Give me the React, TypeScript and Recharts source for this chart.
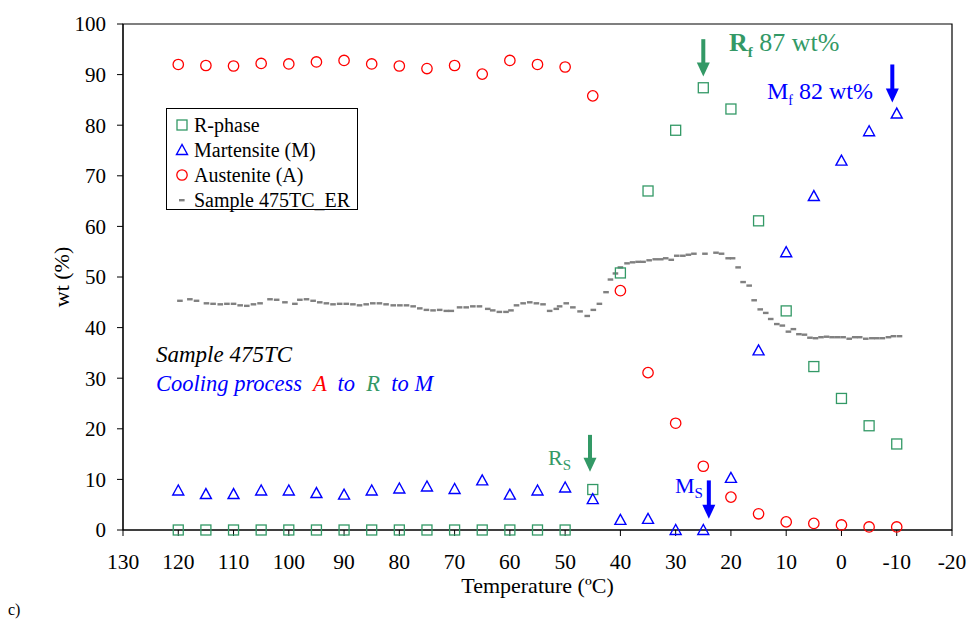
import React from "react";
import {
  ScatterChart,
  Scatter,
  XAxis,
  YAxis,
  ReferenceArea,
  ReferenceLine,
  Label,
} from "recharts";

const FONT = '"Liberation Serif", "Times New Roman", serif';
const GREEN = "#339966";
const BLUE = "#0000ff";
const RED = "#ff0000";
const GREY = "#808080";

// temperatures of the XRD phase fractions (ºC)
const phaseTemps = [
  120, 115, 110, 105, 100, 95, 90, 85, 80, 75, 70, 65, 60, 55, 50, 45, 40, 35,
  30, 25, 20, 15, 10, 5, 0, -5, -10,
];
const rPhase = [
  0, 0, 0, 0, 0, 0, 0, 0, 0, 0, 0, 0, 0, 0, 0, 8, 50.8, 67, 79, 87.4, 83.2,
  61.1, 43.3, 32.3, 26, 20.6, 17,
];
const martensite = [
  7.8, 7.1, 7.1, 7.8, 7.8, 7.3, 7.0, 7.8, 8.2, 8.6, 8.1, 9.8, 7.0, 7.8, 8.4,
  6.1, 2.0, 2.2, 0, 0, 10.3, 35.5, 54.9, 66.0, 73.0, 78.8, 82.3,
];
const austenite = [
  92.0, 91.8, 91.7, 92.2, 92.1, 92.5, 92.8, 92.1, 91.7, 91.2, 91.8, 90.1,
  92.8, 92.0, 91.5, 85.8, 47.3, 31.1, 21.1, 12.6, 6.5, 3.2, 1.6, 1.3, 1.0,
  0.6, 0.6,
];

// Sample 475TC_ER curve
const erTemps = [
  119.7, 117.9, 116.7, 114.9, 113.7, 112.4, 111.2, 110.0, 108.8, 107.6, 106.4,
  105.2, 103.4, 102.2, 100.7, 98.9, 98.0, 96.8, 95.6, 94.4, 93.2, 92.0, 90.8,
  89.6, 88.4, 87.2, 86.0, 84.8, 83.6, 82.4, 81.1, 79.9, 78.7, 77.5, 76.3, 75.1,
  73.9, 72.7, 71.5, 70.6, 69.1, 67.9, 66.7, 65.5, 64.0, 63.1, 61.9, 60.7, 59.8,
  58.8, 57.6, 56.4, 55.2, 54.0, 52.8, 51.6, 51.0, 49.8, 48.6, 47.3, 46.0, 44.9,
  43.8, 42.6, 41.8, 40.9, 40.0, 38.8, 37.8, 36.8, 35.9, 34.8, 33.7, 32.7, 31.8,
  30.8, 29.8, 28.7, 27.7, 26.7, 24.7, 22.7, 21.7, 20.5, 19.7, 18.7, 17.8, 16.7,
  15.8, 14.7, 13.7, 12.8, 11.7, 10.7, 9.6, 8.7, 7.7, 6.7, 5.7, 4.7, 3.7, 2.7,
  1.7, 0.7, -0.3, -1.4, -2.4, -3.3, -4.4, -5.5, -6.4, -7.4, -8.5, -9.4, -10.5,
];
const erValues = [
  45.3, 45.6, 45.3, 44.8, 44.7, 44.6, 44.7, 44.7, 44.4, 44.3, 44.6, 44.8, 45.6,
  45.5, 45.0, 44.7, 45.5, 45.6, 45.3, 45.0, 44.8, 44.6, 44.7, 44.7, 44.6, 44.4,
  44.6, 44.8, 44.8, 44.6, 44.4, 44.4, 44.4, 44.2, 43.8, 43.5, 43.4, 43.5, 43.3,
  43.3, 44.0, 44.0, 44.2, 44.2, 43.7, 43.4, 43.1, 43.1, 43.4, 44.4, 44.8, 45.0,
  44.8, 44.6, 43.3, 43.7, 44.2, 44.8, 44.0, 43.2, 42.3, 43.5, 44.7, 47.0, 49.5,
  50.7, 51.9, 52.7, 52.9, 53.0, 53.0, 53.3, 53.5, 53.5, 53.7, 53.4, 54.2, 54.2,
  54.4, 54.6, 54.6, 54.8, 54.6, 53.7, 53.7, 51.9, 49.0, 48.3, 45.4, 43.6, 42.9,
  41.7, 40.7, 40.4, 39.2, 39.7, 38.7, 38.6, 38.0, 37.9, 38.1, 38.2, 38.1, 38.1,
  38.1, 37.8, 38.1, 38.1, 37.8, 37.9, 37.9, 37.9, 38.1, 38.3, 38.3,
];

const xTicks = [130, 120, 110, 100, 90, 80, 70, 60, 50, 40, 30, 20, 10, 0, -10, -20];
const yTicks = [0, 10, 20, 30, 40, 50, 60, 70, 80, 90, 100];
const xMinor = Array.from({ length: 76 }, (_, i) => -20 + i * 2);
const yMinor = Array.from({ length: 51 }, (_, i) => i * 2);

const rData = phaseTemps.map((t, i) => ({ t, v: rPhase[i] }));
const mData = phaseTemps.map((t, i) => ({ t, v: martensite[i] }));
const aData = phaseTemps.map((t, i) => ({ t, v: austenite[i] }));
const erData = erTemps.map((t, i) => ({ t, v: erValues[i] }));

const SquareMark = (p: any) => (
  <rect x={p.cx - 5} y={p.cy - 5} width={10} height={10} fill="none" stroke={GREEN} strokeWidth={1.3} />
);
const TriMark = (p: any) => (
  <polygon
    points={`${p.cx},${p.cy - 5.5} ${p.cx - 5.5},${p.cy + 4.5} ${p.cx + 5.5},${p.cy + 4.5}`}
    fill="none"
    stroke={BLUE}
    strokeWidth={1.4}
  />
);
const CircleMark = (p: any) => (
  <circle cx={p.cx} cy={p.cy} r={5.2} fill="none" stroke={RED} strokeWidth={1.3} />
);
const DashMark = (p: any) => (
  <rect x={p.cx - 2.8} y={p.cy - 1.2} width={5.6} height={2.4} fill={GREY} />
);

const arrow = (color: string) => (p: any) => {
  const { x1, y1, x2, y2 } = p;
  const head = 14;
  return (
    <g>
      <rect x={x1 - 2} y={y1} width={4} height={y2 - y1 - head + 1} fill={color} />
      <polygon points={`${x2 - 6.5},${y2 - head} ${x2 + 6.5},${y2 - head} ${x2},${y2}`} fill={color} />
    </g>
  );
};

const legendRows = [
  { label: "R-phase", icon: <rect x={2} y={2} width={10} height={10} fill="none" stroke={GREEN} strokeWidth={1.3} /> },
  { label: "Martensite (M)", icon: <polygon points="7,1.5 1.5,11.5 12.5,11.5" fill="none" stroke={BLUE} strokeWidth={1.4} /> },
  { label: "Austenite (A)", icon: <circle cx={7} cy={7} r={5.2} fill="none" stroke={RED} strokeWidth={1.3} /> },
  { label: "Sample 475TC_ER", icon: <rect x={4} y={6} width={5.6} height={2.4} fill={GREY} /> },
];

export default function App() {
  return (
    <div style={{ width: 969, height: 623, padding: "8px 0 0 8px", boxSizing: "border-box", overflow: "hidden", background: "#fff" }}>
      <style>{"body{margin:0}"}</style>
      <div style={{ position: "relative", width: 961, height: 615, fontFamily: FONT }}>
        <ScatterChart width={961} height={600} margin={{ top: 16, right: 17, left: 0, bottom: 0 }}>
          <XAxis
            xAxisId="main"
            type="number"
            dataKey="t"
            domain={[-20, 130]}
            reversed
            ticks={xTicks}
            interval={0}
            height={78}
            tickSize={6}
            tickMargin={18}
            stroke="#000"
            tick={{ fill: "#000", fontSize: 21.5, fontFamily: FONT }}
          >
            <Label
              value="Temperature (ºC)"
              position="insideBottom"
              offset={15}
              style={{ fontSize: 22, fontFamily: FONT, fill: "#000" }}
            />
          </XAxis>
          <XAxis
            xAxisId="minor"
            type="number"
            dataKey="t"
            domain={[-20, 130]}
            allowDataOverflow
            reversed
            ticks={xMinor}
            interval={0}
            mirror
            axisLine={false}
            tick={false}
            tickSize={5}
            stroke="#000"
          />
          <YAxis
            yAxisId="main"
            type="number"
            dataKey="v"
            domain={[0, 100]}
            ticks={yTicks}
            interval={0}
            width={115}
            tickSize={6}
            tickMargin={11}
            stroke="#000"
            tick={{ fill: "#000", fontSize: 21, fontFamily: FONT }}
          />
          <YAxis
            yAxisId="minor"
            type="number"
            dataKey="v"
            domain={[0, 100]}
            allowDataOverflow
            ticks={yMinor}
            interval={0}
            mirror
            axisLine={false}
            tick={false}
            tickSize={5}
            stroke="#000"
          />
          <ReferenceArea
            xAxisId="main"
            yAxisId="main"
            x1={130}
            x2={-20}
            y1={0}
            y2={100}
            fill="none"
            fillOpacity={0}
            stroke="#000"
            strokeWidth={1.2}
          />
          <Scatter xAxisId="main" yAxisId="main" data={erData} dataKey="v" shape={DashMark} isAnimationActive={false} />
          <Scatter xAxisId="main" yAxisId="main" data={rData} dataKey="v" shape={SquareMark} isAnimationActive={false} />
          <Scatter xAxisId="main" yAxisId="main" data={mData} dataKey="v" shape={TriMark} isAnimationActive={false} />
          <Scatter xAxisId="main" yAxisId="main" data={aData} dataKey="v" shape={CircleMark} isAnimationActive={false} />
          <ReferenceLine xAxisId="main" yAxisId="main" segment={[{ x: 25, y: 97 }, { x: 25, y: 89.6 }]} shape={arrow(GREEN)} />
          <ReferenceLine xAxisId="main" yAxisId="main" segment={[{ x: -9.2, y: 92 }, { x: -9.2, y: 84.5 }]} shape={arrow(BLUE)} />
          <ReferenceLine xAxisId="main" yAxisId="main" segment={[{ x: 45.5, y: 18.8 }, { x: 45.5, y: 11.5 }]} shape={arrow(GREEN)} />
          <ReferenceLine xAxisId="main" yAxisId="main" segment={[{ x: 24, y: 9.8 }, { x: 24, y: 2.2 }]} shape={arrow(BLUE)} />
        </ScatterChart>

        {/* y axis title */}
        <div
          style={{
            position: "absolute",
            left: 54,
            top: 269,
            fontSize: 22,
            lineHeight: 1,
            whiteSpace: "nowrap",
            transform: "translate(-50%, -50%) rotate(-90deg)",
          }}
        >
          wt (%)
        </div>

        {/* legend */}
        <div
          style={{
            position: "absolute",
            left: 158,
            top: 100,
            width: 192,
            height: 102,
            border: "1px solid #000",
            background: "#fff",
            boxSizing: "border-box",
            paddingTop: 3,
          }}
        >
          {legendRows.map((r) => (
            <div key={r.label} style={{ display: "flex", alignItems: "center", height: 25 }}>
              <svg width={14} height={14} style={{ marginLeft: 8, marginRight: 5 }}>
                {r.icon}
              </svg>
              <span style={{ fontSize: 20, lineHeight: 1, whiteSpace: "nowrap" }}>{r.label}</span>
            </div>
          ))}
        </div>

        {/* annotations */}
        <div style={{ position: "absolute", left: 721, top: 22, fontSize: 26, lineHeight: 1, color: GREEN, whiteSpace: "nowrap" }}>
          <b>R<sub style={{ fontSize: 15 }}>f</sub></b> 87 wt%
        </div>
        <div style={{ position: "absolute", left: 759, top: 71, fontSize: 24, lineHeight: 1, color: BLUE, whiteSpace: "nowrap" }}>
          M<sub style={{ fontSize: 14 }}>f</sub> 82 wt%
        </div>
        <div style={{ position: "absolute", left: 540, top: 439, fontSize: 22, lineHeight: 1, color: GREEN, whiteSpace: "nowrap" }}>
          R<sub style={{ fontSize: 15 }}>S</sub>
        </div>
        <div style={{ position: "absolute", left: 667, top: 467, fontSize: 22, lineHeight: 1, color: BLUE, whiteSpace: "nowrap" }}>
          M<sub style={{ fontSize: 15 }}>S</sub>
        </div>
        <div style={{ position: "absolute", left: 148, top: 335, fontSize: 23, lineHeight: 1, fontStyle: "italic", color: "#000", whiteSpace: "pre" }}>
          Sample 475TC
        </div>
        <div style={{ position: "absolute", left: 148, top: 365, fontSize: 22.5, lineHeight: 1, fontStyle: "italic", color: BLUE, whiteSpace: "pre" }}>
          {"Cooling process  "}
          <span style={{ color: RED }}>A</span>
          {"  to  "}
          <span style={{ color: GREEN }}>R</span>
          {"  to M"}
        </div>
        <div style={{ position: "absolute", left: 0, top: 594, fontSize: 16, lineHeight: 1, color: "#000" }}>c)</div>
      </div>
    </div>
  );
}
